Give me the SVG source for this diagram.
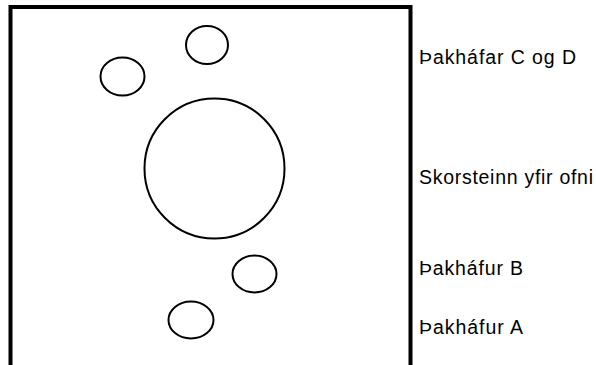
<svg xmlns="http://www.w3.org/2000/svg" width="596" height="365" viewBox="0 0 596 365">
<style>
.frame{fill:none;stroke:#000;stroke-width:4;stroke-linejoin:miter}
.hood{fill:none;stroke:#000;stroke-width:2}
.lbl{font-family:"Liberation Sans",Arial,sans-serif;font-size:19.5px;fill:#000}
</style>
<rect width="596" height="365" fill="#fff"/>
<g id="frame"><path class="frame" d="M10.5,370 V7 H410.5 V370"/></g>
<g id="hood-c"><ellipse class="hood" cx="122.5" cy="76.5" rx="22" ry="19"/></g>
<g id="hood-d"><ellipse class="hood" cx="207" cy="45" rx="21" ry="19"/></g>
<g id="chimney"><circle class="hood" cx="214.5" cy="168.5" r="70"/></g>
<g id="hood-b"><ellipse class="hood" cx="254.5" cy="274" rx="22" ry="18.5"/></g>
<g id="hood-a"><ellipse class="hood" cx="191" cy="320" rx="22.5" ry="18.5"/></g>
<g id="connectors"></g>
<g id="labels">
<text class="lbl" x="419" y="64" textLength="157">Þakháfar C og D</text>
<text class="lbl" x="419" y="184" textLength="174">Skorsteinn yfir ofni</text>
<text class="lbl" x="419" y="275" textLength="104">Þakháfur B</text>
<text class="lbl" x="419" y="334" textLength="104">Þakháfur A</text>
</g>
</svg>
